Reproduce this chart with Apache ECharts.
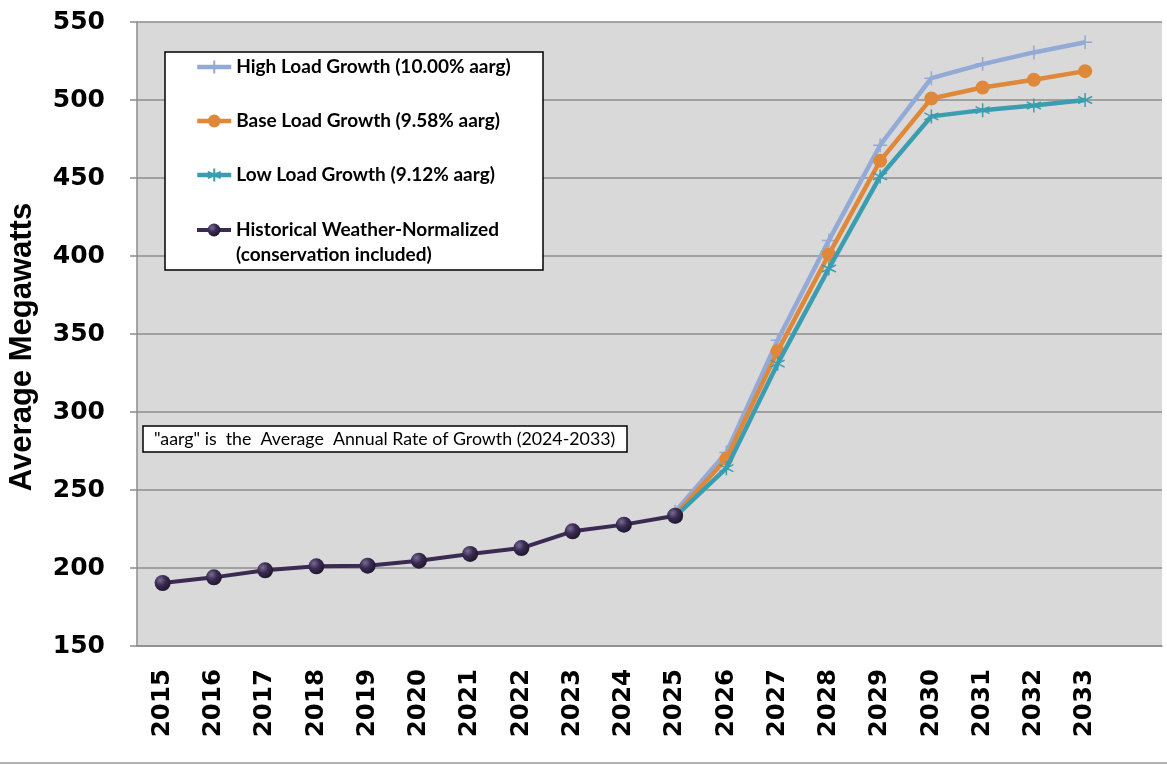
<!DOCTYPE html>
<html>
<head>
<meta charset="utf-8">
<style>
  html, body { margin: 0; padding: 0; background: #ffffff; }
  #chart { width: 1167px; height: 765px; }
</style>
<script src="https://cdn.jsdelivr.net/npm/echarts@6/dist/echarts.min.js"></script>
</head>
<body>
<div id="chart"></div>
<script>
// Years on the category axis
const years = ['2015','2016','2017','2018','2019','2020','2021','2022','2023','2024',
               '2025','2026','2027','2028','2029','2030','2031','2032','2033'];

// Average megawatts, historical weather-normalized (2015-2025)
const historical = [190.4, 194.0, 198.5, 201.1, 201.5, 204.7, 209.0, 212.8, 223.5, 227.8, 233.5];

// Forecast scenarios (2025-2033)
const highGrowth = [236, 274, 346, 410, 471, 514, 523, 530.5, 537];
const baseGrowth = [234, 270, 339, 401, 461, 501, 508, 513, 518.5];
const lowGrowth  = [233, 264, 331, 392, 451, 489.5, 493.5, 496.5, 500];

// Y axis ticks
const yMin = 150, yMax = 550, yStep = 50;

// Legend names
const names = {
  high: 'High Load Growth (10.00% aarg)',
  base: 'Base Load Growth (9.58% aarg)',
  low: 'Low Load Growth (9.12% aarg)',
  hist: 'Historical Weather-Normalized\n(conservation included)'
};
const noteText = '"aarg" is  the  Average  Annual Rate of Growth (2024-2033)';

// Forecasts start in 2025; pad earlier years with nulls
const forecastStart = years.indexOf('2025');
const pad = (arr, before) => Array(before).fill(null).concat(arr);
const padAfter = (arr) => arr.concat(Array(years.length - arr.length).fill(null));

const colors = {
  high: '#93A9D6',
  base: '#E0883A',
  low: '#3A9DB0',
  hist: '#3B2B52'
};

const plusSymbol = 'path://M0,-10 L0,10 M-10,0 L10,0';
const starSymbol = 'path://M0,-10 L0,10 M-8.66,-5 L8.66,5 M-8.66,5 L8.66,-5';

const sphere = new echarts.graphic.RadialGradient(0.35, 0.32, 0.75, [
  { offset: 0, color: '#7a6c92' },
  { offset: 0.45, color: '#3a2b52' },
  { offset: 1, color: '#1d1429' }
]);

const chart = echarts.init(document.getElementById('chart'), null, { renderer: 'canvas' });

// One empty slot after the last year keeps space on the right of the plot
const xCats = years.concat(['']);

const legendText = {
  fontFamily: 'Lato',
  fontWeight: 'bold',
  fontSize: 19,
  color: '#000',
  lineHeight: 20
};

chart.setOption({
  animation: false,
  backgroundColor: '#ffffff',
  grid: {
    left: 137, right: 5, top: 22, bottom: 119,
    outerBoundsMode: 'none',
    containLabel: false,
    show: true,
    backgroundColor: '#D9D9D9',
    borderWidth: 0
  },
  title: {
    text: noteText,
    left: 143, top: 426,
    padding: [3, 12, 2, 11],
    backgroundColor: '#ffffff',
    borderColor: '#000000',
    borderWidth: 1.5,
    textStyle: {
      fontFamily: 'Lato',
      fontWeight: 'normal',
      fontSize: 17.8,
      lineHeight: 21,
      color: '#000'
    }
  },
  legend: [
    {
      orient: 'vertical',
      left: 195, top: 57,
      padding: 0,
      itemGap: 34,
      itemWidth: 34,
      itemHeight: 16,
      selectedMode: false,
      data: [names.high, names.base, names.low],
      lineStyle: { width: 'inherit' },
      textStyle: legendText
    },
    {
      orient: 'vertical',
      left: 195, top: 192.5,
      padding: 0,
      itemWidth: 34,
      itemHeight: 16,
      selectedMode: false,
      data: [names.hist],
      lineStyle: { width: 'inherit' },
      // leading blank line keeps the first text line level with the icon
      formatter: (name) => '\n' + name,
      textStyle: Object.assign({}, legendText, { lineHeight: 25 })
    }
  ],
  graphic: [
    {
      type: 'rect', z: 3,
      shape: { x: 165, y: 52, width: 378, height: 218 },
      style: { fill: '#ffffff', stroke: '#000000', lineWidth: 1.5 }
    },
    {
      type: 'line', z: 3,
      shape: { x1: 0, y1: 763, x2: 1167, y2: 763 },
      style: { stroke: '#9a9a9a', lineWidth: 1.5 }
    }
  ],
  xAxis: {
    type: 'category',
    data: xCats,
    boundaryGap: true,
    axisLine: { show: true, lineStyle: { color: '#8c8c8c', width: 1.5 } },
    axisTick: { show: false },
    axisLabel: {
      rotate: 90,
      margin: 23,
      interval: 0,
      fontFamily: 'DejaVu Sans',
      fontWeight: 'bold',
      fontSize: 24.5,
      color: '#000'
    },
    splitLine: { show: false }
  },
  yAxis: {
    type: 'value',
    min: yMin, max: yMax, interval: yStep,
    name: 'Average Megawatts',
    nameLocation: 'middle',
    nameRotate: 90,
    nameGap: 99,
    nameTextStyle: {
      fontFamily: 'Liberation Sans',
      fontWeight: 'bold',
      fontSize: 31,
      color: '#000',
      padding: [0, 26, 0, 0]
    },
    axisLine: { show: true, lineStyle: { color: '#8c8c8c', width: 1.5 } },
    axisTick: { show: true, length: 7, lineStyle: { color: '#8c8c8c', width: 1.5 } },
    axisLabel: {
      margin: 32,
      fontFamily: 'DejaVu Sans',
      fontWeight: 'bold',
      fontSize: 25,
      color: '#000'
    },
    splitLine: { show: true, lineStyle: { color: '#8c8c8c', width: 1.5 } }
  },
  series: [
    {
      name: names.high,
      type: 'line',
      data: pad(highGrowth, forecastStart),
      symbol: plusSymbol,
      symbolSize: 14,
      showAllSymbol: true,
      lineStyle: { color: colors.high, width: 4.5 },
      itemStyle: { color: colors.high, borderColor: colors.high, borderWidth: 1.5 },
      z: 2
    },
    {
      name: names.base,
      type: 'line',
      data: pad(baseGrowth, forecastStart),
      symbol: 'circle',
      symbolSize: 14,
      showAllSymbol: true,
      lineStyle: { color: colors.base, width: 4.5 },
      itemStyle: { color: colors.base, borderWidth: 0 },
      z: 3
    },
    {
      name: names.low,
      type: 'line',
      data: pad(lowGrowth, forecastStart),
      symbol: starSymbol,
      symbolSize: 14,
      showAllSymbol: true,
      lineStyle: { color: colors.low, width: 4.5 },
      itemStyle: { color: colors.low, borderColor: colors.low, borderWidth: 1.5 },
      z: 4
    },
    {
      name: names.hist,
      type: 'line',
      data: padAfter(historical),
      symbol: 'circle',
      symbolSize: 16,
      showAllSymbol: true,
      lineStyle: { color: colors.hist, width: 4 },
      itemStyle: { color: sphere, borderWidth: 0 },
      z: 5
    }
  ]
});
</script>
</body>
</html>
